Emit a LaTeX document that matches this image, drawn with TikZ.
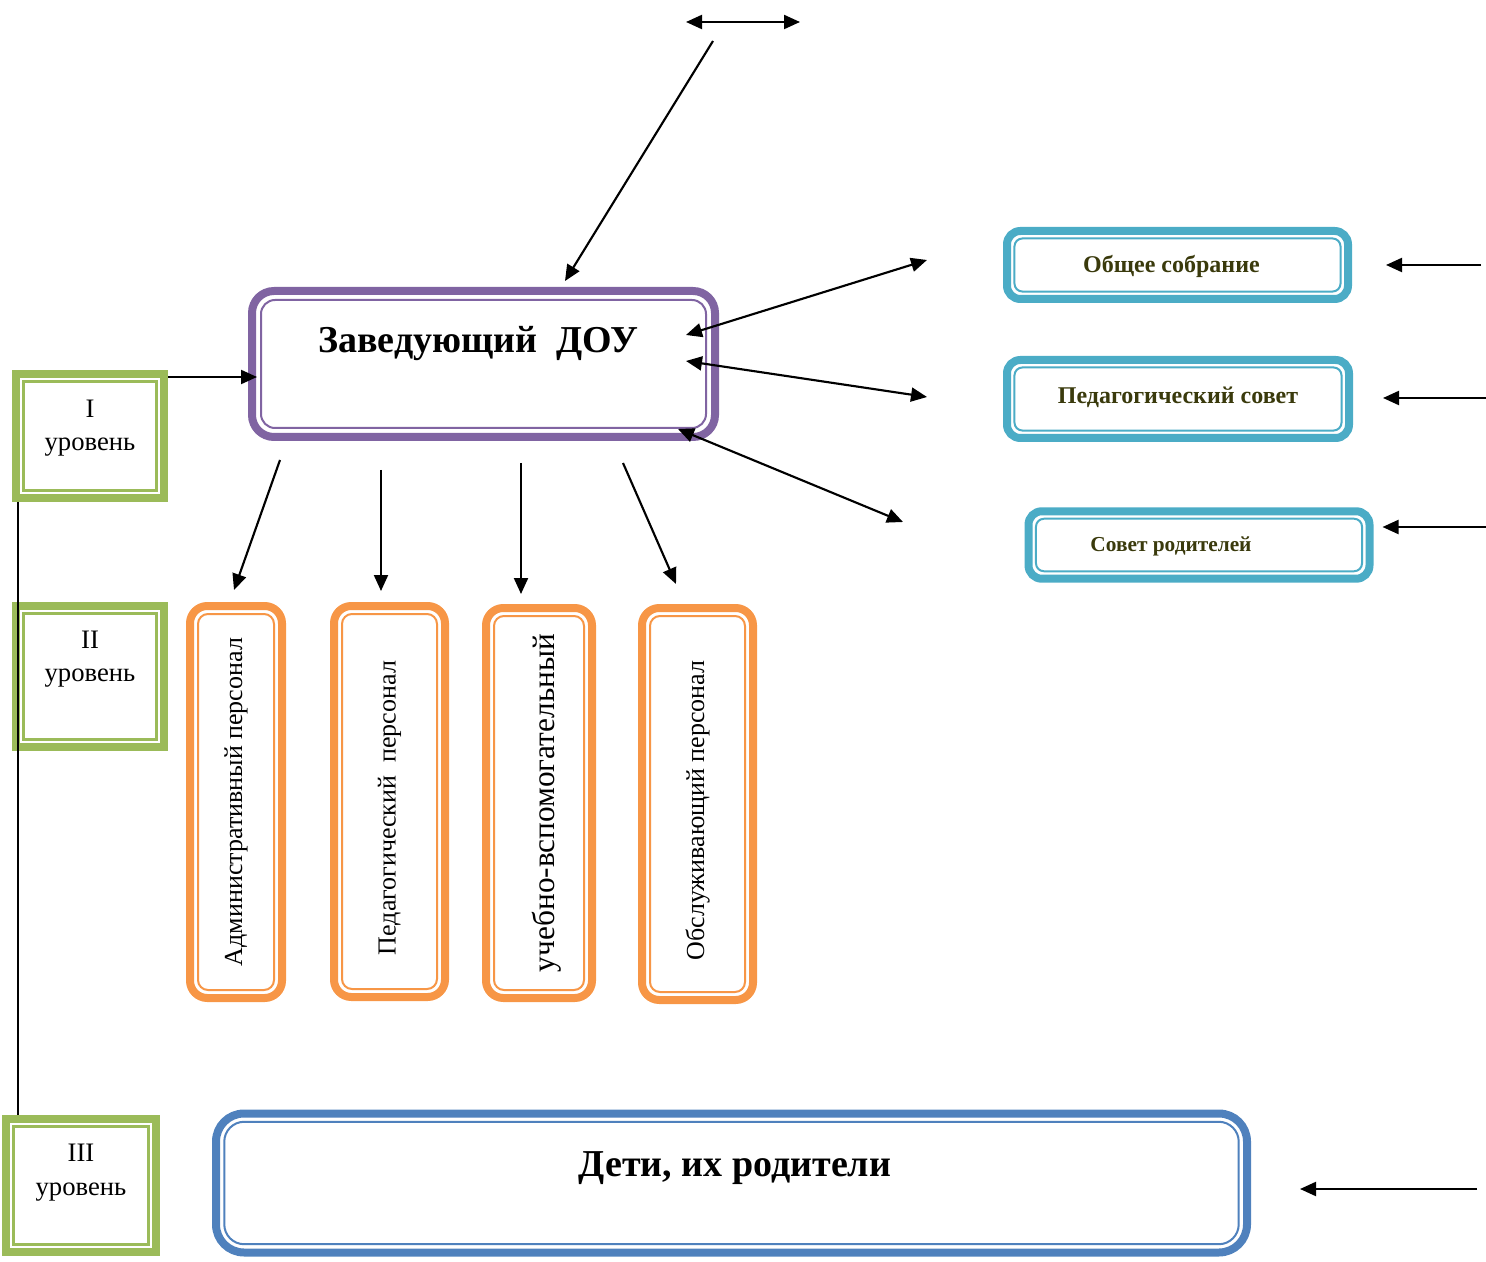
\documentclass[tikz,border=0pt]{standalone}
\usepackage{fontspec}
\setmainfont{Liberation Serif}
\usetikzlibrary{arrows.meta,calc}
\definecolor{cpurple}{HTML}{8064A2}
\definecolor{cgreen}{HTML}{9BBB59}
\definecolor{corange}{HTML}{F79646}
\definecolor{cteal}{HTML}{4BACC6}
\definecolor{cblue}{HTML}{4F81BD}
\definecolor{colive}{HTML}{3A3A0C}
\tikzset{
  dbl/.style n args={4}{draw=#1, line width=6pt, rounded corners=#2, fill=white, inner sep=0pt,
    path picture={\draw[#1, line width=1.5pt, rounded corners=#3]
      ([shift={(#4,-#4)}]path picture bounding box.north west) rectangle
      ([shift={(-#4,#4)}]path picture bounding box.south east);}},
  lvl/.style={draw=cgreen, line width=6pt, fill=white, inner sep=0pt,
    path picture={\draw[cgreen, line width=1.6pt]
      ([shift={(5.6pt,-5.6pt)}]path picture bounding box.north west) rectangle
      ([shift={(-5.6pt,5.6pt)}]path picture bounding box.south east);}},
  lvltext/.style={font=\fontsize{20pt}{25pt}\selectfont, align=center},
  arr/.style={line width=1.6pt, -{Triangle[length=12pt,width=10.5pt]}},
  darr/.style={line width=1.6pt, {Triangle[length=12pt,width=10.5pt]}-{Triangle[length=12pt,width=10.5pt]}},
  vtext/.style={rotate=90, font=\fontsize{19.5pt}{23pt}\selectfont},
  ttext/.style={font=\fontsize{18pt}{22pt}\selectfont\bfseries, text=colive},
}
\begin{document}
\begin{tikzpicture}[x=0.75pt, y=-0.75pt]
\useasboundingbox (0,0) rectangle (1486,1262);

% main box
\node[dbl={cpurple}{16.5pt}{10.5pt}{6.75pt}, minimum width=347.25pt, minimum height=109.5pt,
  label={[font=\fontsize{28.5pt}{34pt}\selectfont\bfseries, xshift=-4pt, yshift=15pt]center:Заведующий\ \ ДОУ}]
  (zav) at (483.5,364) {};

% level boxes
\node[lvl, minimum width=111pt, minimum height=93pt,
  label={[lvltext, yshift=6pt]center:I\\уровень}] (lvlI) at (90,436) {};
\node[lvl, minimum width=111pt, minimum height=105.75pt,
  label={[lvltext, yshift=12.8pt]center:II\\уровень}] (lvlII) at (90,676.5) {};
\node[lvl, minimum width=112.5pt, minimum height=99.75pt,
  label={[lvltext, yshift=9.6pt]center:III\\уровень}] (lvlIII) at (81,1185.5) {};

% staff boxes
\node[dbl={corange}{13pt}{7.5pt}{6pt}, minimum width=69pt, minimum height=294pt,
  label={[vtext]center:Административный персонал}] (o1) at (236,802) {};
\node[dbl={corange}{13pt}{7.5pt}{6pt}, minimum width=83.25pt, minimum height=293.25pt,
  label={[vtext, xshift=-4.9pt]center:Педагогический\ \ персонал}] (o2) at (389.5,801.5) {};
\node[dbl={corange}{13pt}{7.5pt}{6pt}, minimum width=79.5pt, minimum height=292.5pt,
  label={[vtext, font=\fontsize{23.5pt}{28pt}\selectfont, yshift=-5.5pt]center:учебно-вспомогательный}] (o3) at (539,803) {};
\node[dbl={corange}{13pt}{7.5pt}{6pt}, minimum width=83.25pt, minimum height=294pt,
  label={[vtext, xshift=-4.9pt]center:Обслуживающий персонал}] (o4) at (697.5,804) {};

% council boxes
\node[dbl={cteal}{10pt}{6pt}{5.6pt}, minimum width=255.75pt, minimum height=51pt,
  label={[ttext, xshift=-4.5pt, yshift=-0.8pt]center:Общее собрание}] (t1) at (1177.5,265) {};
\node[dbl={cteal}{10pt}{6pt}{5.6pt}, minimum width=256.5pt, minimum height=58.5pt,
  label={[ttext, yshift=1.5pt]center:Педагогический совет}] (t2) at (1178,399) {};
\node[dbl={cteal}{10pt}{6pt}{5.6pt}, minimum width=255.75pt, minimum height=50.6pt,
  label={[ttext, font=\fontsize{16pt}{20pt}\selectfont\bfseries, xshift=-21pt, yshift=-1pt]center:Совет родителей}] (t3) at (1199,545) {};

% children box
\node[dbl={cblue}{21pt}{15pt}{6.2pt}, minimum width=773.25pt, minimum height=104.25pt,
  label={[font=\fontsize{28.5pt}{34pt}\selectfont\bfseries, xshift=2.6pt, yshift=11.5pt]center:Дети, их родители}]
  (kids) at (731.5,1183) {};

% vertical level line
\coordinate (v1) at ($(lvlI.south west)+(6,0)$);
\draw[line width=1.3pt] (v1) -- (v1 |- lvlIII.north);

% level I arrow
\coordinate (a1) at ($(lvlI.north east)+(0,7)$);
\draw[arr] (a1) -- ($(zav.west |- a1)+(9,0)$);

% top arrows
\coordinate (tl) at (686,22);
\coordinate (tr) at (800,22);
\draw[darr] (tl) -- (tr);
\coordinate (ts) at (713,41);
\draw[arr] (ts) -- ($(zav.north)+(81.5,-6)$);

% right arrows from main box
\coordinate (r1) at (927,260);
\coordinate (r2) at (927,397);
\coordinate (r3) at (903,522);
\draw[darr] ($(zav.east)+(-33,-29)$) -- (r1);
\draw[darr] ($(zav.east)+(-33,-3)$) -- (r2);
\draw[darr] ($(zav.south east)+(-41,-12)$) -- (r3);

% down arrows
\coordinate (d1) at (280,460);
\coordinate (d2) at (381,470);
\coordinate (d3) at (521,463);
\coordinate (d4) at (623,463);
\draw[arr] (d1) -- ($(o1.north)+(-2,-12)$);
\draw[arr] (d2) -- ($(o2.north)+(-8.5,-11)$);
\draw[arr] (d3) -- ($(o3.north)+(-18,-10)$);
\draw[arr] (d4) -- ($(o4.north)+(-21.5,-20)$);

% arrows from the right
\coordinate (e1) at (1481,265);
\coordinate (e2) at (1486,398);
\coordinate (e3) at (1486,527);
\coordinate (e4) at (1477,1189);
\draw[arr] (e1) -- ($(t1.east)+(34,0)$);
\draw[arr] (e2) -- ($(t2.east)+(30,-1)$);
\draw[arr] (e3) -- ($(t3.east)+(9,-18)$);
\draw[arr] (e4) -- ($(kids.east)+(49,6)$);
\end{tikzpicture}
\end{document}
